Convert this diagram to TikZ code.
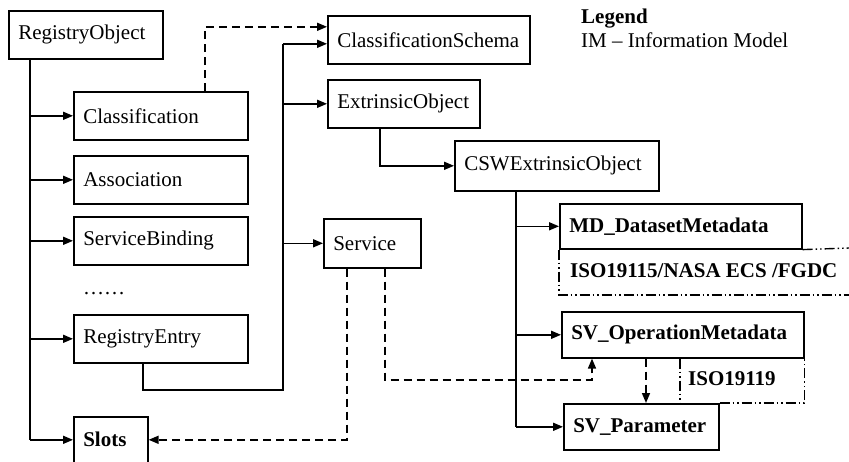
\documentclass[tikz,border=0pt]{standalone}
\usepackage{fontspec}
\setmainfont{Liberation Serif}
\usetikzlibrary{arrows.meta}

\begin{document}
\begin{tikzpicture}[x=1pt,y=1pt,
  every node/.style={font=\fontsize{21}{25}\selectfont},
  box/.style={draw, line width=1.6pt, anchor=north west, inner xsep=9.5pt,
    inner ysep=0pt, minimum height=48pt, text width=#1pt, align=left},
  conn/.style={line width=1.6pt},
  arr/.style={conn, -{Triangle[length=10pt,width=8pt]}},
  dsh/.style={line width=1.6pt, dash pattern=on 8pt off 5pt},
  darr/.style={dsh, -{Triangle[length=10pt,width=8pt]}},
  ddd/.style={line width=1.4pt, dash pattern=on 10pt off 3pt on 1.5pt off 3pt on 1.5pt off 3pt},
]
\useasboundingbox (0,0) rectangle (849,-461);
\clip (0,0) rectangle (849,-461);

% registry classes
\node[box=135] (ro) at (8,-10) {RegistryObject};
\node[box=155] (cls) at (73,-91) {Classification};
\node[box=155] (asc) at (73,-155) {Association};
\node[box=155] (sb) at (73,-216) {ServiceBinding};
\node[anchor=base west, inner sep=0pt] (dots) at (83,-294) {……};
\node[box=155] (re) at (73,-314) {RegistryEntry};
\node[box=55, minimum height=46pt] (slots) at (73,-416) {\textbf{Slots}};
\node[box=183] (cs) at (327,-15) {ClassificationSchema};
\node[box=133] (eo) at (327,-79) {ExtrinsicObject};
\node[box=78, minimum height=49pt] (svc) at (323,-218) {Service};
\node[box=185, minimum height=50pt] (csw) at (454,-140) {CSWExtrinsicObject};
\node[box=223, minimum height=45pt] (md) at (559,-203) {\textbf{MD\_DatasetMetadata}};
\node[box=223, minimum height=46pt] (svop) at (561,-311) {\textbf{SV\_OperationMetadata}};
\node[box=136, minimum height=46pt] (svp) at (563,-403) {\textbf{SV\_Parameter}};

% standards labels
\node[anchor=west, inner sep=0pt] (iso15) at (570,-271) {\textbf{ISO19115/NASA ECS /FGDC}};
\node[anchor=west, inner sep=0pt] (iso19) at (688,-379) {\textbf{ISO19119}};

% legend
\node[anchor=base west, inner sep=0pt] (lg) at (581,-23) {\textbf{Legend}};
\node[anchor=base west, inner sep=0pt] (im) at (581,-47) {IM – Information Model};

% trunk from RegistryObject
\coordinate (t0) at ([xshift=22pt]ro.south west);
\draw[conn] (t0) -- (t0 |- slots.west);
\foreach \n in {cls,asc,sb,re,slots} \draw[arr] (t0 |- \n.west) -- (\n.west);

% trunk from RegistryEntry
\coordinate (r0) at ([xshift=70pt]re.south west);
\coordinate (t1) at (283,-390);
\coordinate (csin) at ([yshift=-4pt]cs.west);
\draw[conn] (r0) |- (t1) -- (t1 |- csin);
\draw[arr] (t1 |- csin) -- (csin);
\draw[arr] (t1 |- eo.west) -- (eo.west);
\draw[arr] (t1 |- svc.west) -- (svc.west);

% Classification -> ClassificationSchema
\coordinate (c0) at ([xshift=132pt]cls.north west);
\coordinate (csd) at ([yshift=13pt]cs.west);
\draw[darr] (c0) |- (csd);

% ExtrinsicObject -> CSWExtrinsicObject
\draw[arr] ([xshift=53pt]eo.south west) |- (csw.west);

% trunk from CSWExtrinsicObject
\coordinate (t2) at ([xshift=62pt]csw.south west);
\draw[conn] (t2) -- (t2 |- svp.west);
\foreach \n in {md,svop,svp} \draw[arr] (t2 |- \n.west) -- (\n.west);

% Service references
\coordinate (s0) at ([xshift=24pt]svc.south west);
\coordinate (s1) at ([xshift=62pt]svc.south west);
\coordinate (s2) at (385,-380);
\coordinate (o0) at ([xshift=31pt]svop.south west);
\draw[darr] (s0) |- (slots.east);
\draw[darr] (s1) -- (s2) -| (o0);

% operation -> parameter
\coordinate (d0) at ([xshift=85pt]svop.south west);
\draw[darr] (d0) -- (d0 |- svp.north);

% ISO19115 frame
\coordinate (e0) at (849,-248);
\coordinate (e1) at (849,-295);
\draw[ddd] (md.south east) -- (e0);
\draw[ddd] (md.south west) |- (e1);

% ISO19119 frame
\coordinate (i0) at ([xshift=119pt]svop.south west);
\draw[ddd] (i0) -- (i0 |- svp.north);
\draw[ddd] (svp.north east) -| (svop.south east);
\end{tikzpicture}
\end{document}
